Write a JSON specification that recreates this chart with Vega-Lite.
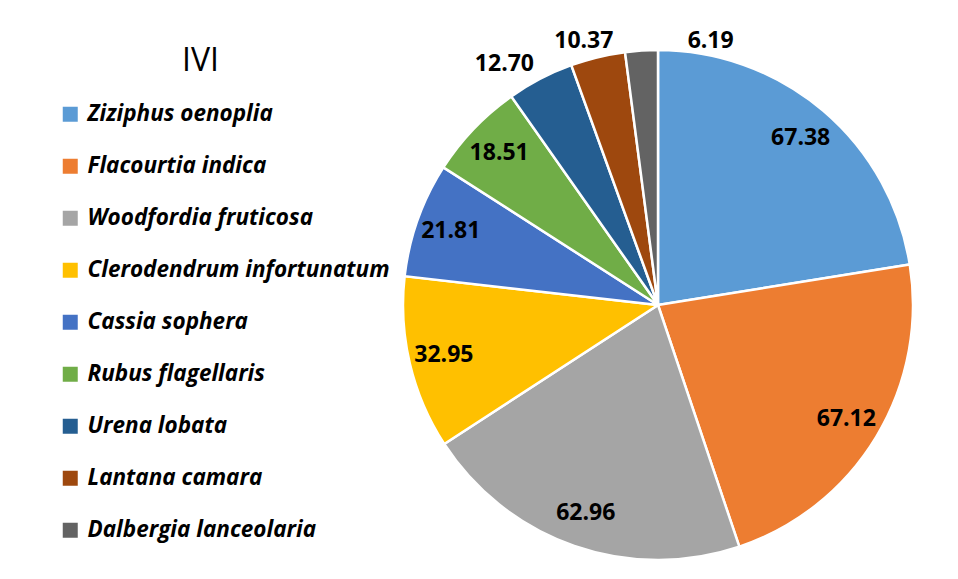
{
  "$schema": "https://vega.github.io/schema/vega-lite/v6.json",
  "width": 520,
  "height": 520,
  "autosize": {"type": "none"},
  "padding": {"left": 398, "top": 45, "right": 40, "bottom": 14},
  "background": "white",
  "title": {
    "text": "IVI",
    "anchor": "start",
    "frame": "group",
    "dx": -216,
    "dy": 80,
    "offset": 0,
    "baseline": "alphabetic",
    "font": "Open Sans",
    "fontSize": 32,
    "fontWeight": "normal",
    "color": "#000000"
  },
  "config": {"view": {"stroke": null}},
  "data": {
    "values": [
      {"species": "Ziziphus oenoplia", "value": 67.38},
      {"species": "Flacourtia indica", "value": 67.12},
      {"species": "Woodfordia fruticosa", "value": 62.96},
      {"species": "Clerodendrum infortunatum", "value": 32.95},
      {"species": "Cassia sophera", "value": 21.81},
      {"species": "Rubus flagellaris", "value": 18.51},
      {"species": "Urena lobata", "value": 12.70},
      {"species": "Lantana camara", "value": 10.37},
      {"species": "Dalbergia lanceolaria", "value": 6.19}
    ]
  },
  "encoding": {
    "theta": {"field": "value", "type": "quantitative", "stack": true},
    "order": {"field": "value", "type": "quantitative", "sort": "descending"}
  },
  "layer": [
    {
      "mark": {"type": "arc", "outerRadius": 255, "stroke": "white", "strokeWidth": 2.5},
      "encoding": {
        "color": {
          "field": "species",
          "type": "nominal",
          "scale": {
            "domain": ["Ziziphus oenoplia", "Flacourtia indica", "Woodfordia fruticosa", "Clerodendrum infortunatum", "Cassia sophera", "Rubus flagellaris", "Urena lobata", "Lantana camara", "Dalbergia lanceolaria"],
            "range": ["#5B9BD5", "#ED7D31", "#A5A5A5", "#FFC000", "#4472C4", "#70AD47", "#255E91", "#9E480E", "#636363"]
          },
          "legend": {
            "title": null,
            "orient": "none",
            "legendX": -339,
            "legendY": 58,
            "symbolType": "square",
            "symbolSize": 225,
            "symbolStrokeWidth": 0,
            "symbolOpacity": 1,
            "labelFont": "Open Sans",
            "labelFontSize": 22.5,
            "labelFontStyle": "italic",
            "labelFontWeight": "bold",
            "labelColor": "#000000",
            "labelOffset": 6,
            "labelLimit": 400,
            "rowPadding": 29,
            "padding": 0
          }
        }
      }
    },
    {
      "mark": {"type": "text", "radius": 220, "font": "Open Sans", "fontSize": 23, "fontWeight": "bold", "color": "#000000"},
      "encoding": {
        "text": {"condition": {"test": "datum.value > 15", "field": "value", "type": "quantitative", "format": ".2f"}, "value": ""}
      }
    },
    {
      "mark": {"type": "text", "radius": 272, "dx": -10, "font": "Open Sans", "fontSize": 23, "fontWeight": "bold", "color": "#000000"},
      "encoding": {
        "text": {"condition": {"test": "datum.value > 8 && datum.value <= 12", "field": "value", "type": "quantitative", "format": ".2f"}, "value": ""}
      }
    },
    {
      "mark": {"type": "text", "radius": 272, "dx": -28, "font": "Open Sans", "fontSize": 23, "fontWeight": "bold", "color": "#000000"},
      "encoding": {
        "text": {"condition": {"test": "datum.value > 12 && datum.value <= 15", "field": "value", "type": "quantitative", "format": ".2f"}, "value": ""}
      }
    },
    {
      "mark": {"type": "text", "radius": 268, "dx": 70, "dy": 3, "font": "Open Sans", "fontSize": 23, "fontWeight": "bold", "color": "#000000"},
      "encoding": {
        "text": {"condition": {"test": "datum.value <= 8", "field": "value", "type": "quantitative", "format": ".2f"}, "value": ""}
      }
    }
  ]
}
